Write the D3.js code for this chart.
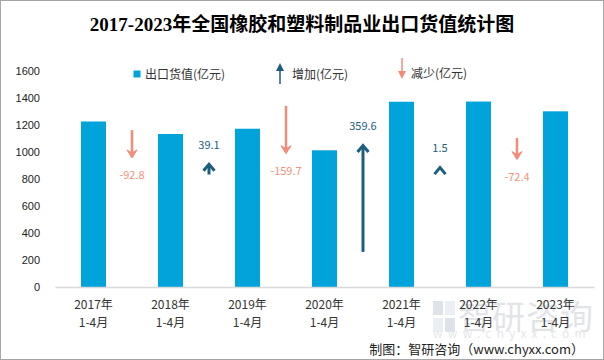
<!DOCTYPE html>
<html><head><meta charset="utf-8">
<script src="https://cdn.jsdelivr.net/npm/d3@7/dist/d3.min.js"></script>
<style>
html,body{margin:0;padding:0;background:#fff;}
svg{display:block;}
text{font-family:"Noto Sans CJK SC","Microsoft YaHei",sans-serif;}
</style></head>
<body>
<svg id="c" width="604" height="360"></svg>
<script>
// ---- data ----
const categories = ["2017年|1-4月","2018年|1-4月","2019年|1-4月","2020年|1-4月","2021年|1-4月","2022年|1-4月","2023年|1-4月"];
const exportValues = [1226.0, 1133.2, 1172.3, 1012.6, 1372.2, 1373.7, 1301.3];
const changes = [-92.8, 39.1, -159.7, 359.6, 1.5, -72.4];
// arrow tail position on the hidden secondary axis
const arrowTails = [523, 375, 604, 117, 401.5, 497];
const yTicks = [0,200,400,600,800,1000,1200,1400,1600];
const title = "2017-2023年全国橡胶和塑料制品业出口货值统计图";
const legendLabels = ["出口货值(亿元)","增加(亿元)","减少(亿元)"];
const footer = "制图：智研咨询（www.chyxx.com）";

const BAR = "#00A3DA", UP = "#1B5E7E", DOWN = "#F28C78", DOWNTXT = "#F4917C";
const fmt = v => d3.format(".1f")(v).replace("\u2212","-");

const svg = d3.select("#c");
svg.append("rect").attr("x",0.5).attr("y",0.5).attr("width",603).attr("height",359)
  .attr("fill","#fff").attr("stroke","#a6a6a6");

// watermark
const wm = svg.append("g").attr("opacity",0.45);
wm.append("rect").attr("x",433).attr("y",301).attr("width",10).attr("height",14).attr("fill","#b8c2cf");
wm.append("rect").attr("x",445).attr("y",301).attr("width",10).attr("height",14).attr("fill","#d3dae3");
wm.append("rect").attr("x",433).attr("y",318).attr("width",10).attr("height",14).attr("fill","#d3dae3");
wm.append("rect").attr("x",445).attr("y",318).attr("width",10).attr("height",14).attr("fill","#b8c2cf");
wm.append("text").attr("x",458).attr("y",329).attr("font-size",33).attr("fill","#bfc4cb").attr("letter-spacing",1).text("智研咨询");
wm.append("text").attr("x",433).attr("y",338).attr("font-size",12).attr("fill","#c5c9ce").attr("letter-spacing",5.2).text("www.chyxx.com");

// title
svg.append("text").attr("x",302).attr("y",31).attr("text-anchor","middle")
  .attr("font-size",19).attr("font-weight","bold").attr("fill","#000")
  .style("font-family","'Liberation Serif','Noto Sans CJK SC',serif").text(title);

// scales
const x = d3.scaleBand().domain(categories).range([55,594]).padding(0);
const y = d3.scaleLinear().domain([0,1600]).range([287,71]);
const y2 = d3.scaleLinear().domain([0,720]).range([287,71]);

// y axis labels
const yAxis = d3.axisLeft(y).tickValues(yTicks).tickFormat(d3.format("d")).tickSize(0).tickPadding(0);
const ya = svg.append("g").attr("transform","translate(40,0)").call(yAxis);
ya.select(".domain").remove();
ya.selectAll("text").attr("font-size",11).attr("fill","#222").style("font-family","'Liberation Sans',Arial,sans-serif");

// bars
const bw = 25;
svg.append("g").selectAll("rect").data(exportValues).join("rect")
  .attr("x",(d,i)=>x(categories[i])+x.bandwidth()/2-bw/2)
  .attr("y",d=>y(d)).attr("width",bw).attr("height",d=>y(0)-y(d)).attr("fill",BAR);

// x axis
const xAxis = d3.axisBottom(x).tickSize(0).tickFormat("");
const xa = svg.append("g").attr("transform",`translate(0,${y(0)})`).call(xAxis);
xa.select(".domain").attr("stroke","#d9d9d9").attr("stroke-width",1.5);
const xl = svg.append("g");
categories.forEach((c,i)=>{
  const parts = c.split("|");
  const cx = x(c)+x.bandwidth()/2;
  xl.append("text").attr("x",cx).attr("y",309).attr("text-anchor","middle").attr("font-size",12).attr("fill","#333").text(parts[0]);
  xl.append("text").attr("x",cx).attr("y",327).attr("text-anchor","middle").attr("font-size",12).attr("fill","#333").text(parts[1]);
});

// arrows
const ag = svg.append("g");
changes.forEach((d,i)=>{
  const ax = x(categories[i]) + x.bandwidth();
  const y0 = y2(arrowTails[i]);
  const y1 = y2(arrowTails[i]+d);
  if(d>=0){
    ag.append("line").attr("x1",ax).attr("x2",ax).attr("y1",y0).attr("y2",Math.min(y0,y1+2))
      .attr("stroke",UP).attr("stroke-width",3);
    ag.append("path").attr("d",`M${ax-5.5},${y1+8}L${ax},${y1+1.5}L${ax+5.5},${y1+8}`)
      .attr("fill","none").attr("stroke",UP).attr("stroke-width",3).attr("stroke-linejoin","miter");
    ag.append("text").attr("x",ax).attr("y",y1-14).attr("text-anchor","middle")
      .attr("font-size",11).attr("fill",UP).text(fmt(d));
  } else {
    ag.append("line").attr("x1",ax).attr("x2",ax).attr("y1",y0).attr("y2",y1-4)
      .attr("stroke",DOWN).attr("stroke-width",2.5);
    ag.append("path").attr("d",`M${ax},${y1}L${ax-5},${y1-8}L${ax},${y1-5}L${ax+5},${y1-8}Z`)
      .attr("fill",DOWN).attr("stroke",DOWN).attr("stroke-width",1).attr("stroke-linejoin","round");
    ag.append("text").attr("x",ax).attr("y",y1+21).attr("text-anchor","middle")
      .attr("font-size",11).attr("fill",DOWNTXT).text(fmt(d));
  }
});

// legend
const lg = svg.append("g");
lg.append("rect").attr("x",133.5).attr("y",70.5).attr("width",7).attr("height",7).attr("fill",BAR);
lg.append("text").attr("x",145).attr("y",78.5).attr("font-size",12).attr("fill","#333").text(legendLabels[0]);
lg.append("line").attr("x1",280).attr("x2",280).attr("y1",68).attr("y2",84).attr("stroke",UP).attr("stroke-width",1.5);
lg.append("path").attr("d","M280,63L284,71L276,71Z").attr("fill",UP);
lg.append("text").attr("x",292).attr("y",78.5).attr("font-size",12).attr("fill","#333").text(legendLabels[1]);
lg.append("line").attr("x1",402).attr("x2",402).attr("y1",58).attr("y2",73).attr("stroke",DOWN).attr("stroke-width",1.5);
lg.append("path").attr("d","M402,79L406,71L398,71Z").attr("fill",DOWN);
lg.append("text").attr("x",411).attr("y",77.5).attr("font-size",12).attr("fill","#333").text(legendLabels[2]);

// footer
svg.append("text").attr("x",584).attr("y",354).attr("text-anchor","end")
  .attr("font-size",13).attr("fill","#222").text(footer);
</script>
</body></html>
